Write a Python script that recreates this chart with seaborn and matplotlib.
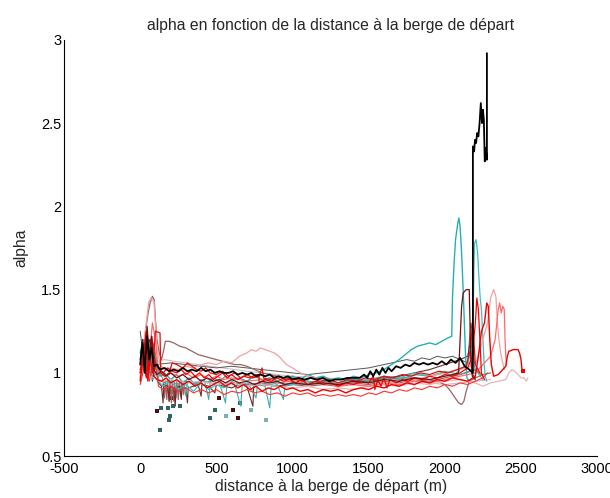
import matplotlib
matplotlib.use("Agg")
import matplotlib.pyplot as plt
import seaborn as sns
import pandas as pd

# ---------------- data (distance m, alpha) ----------------
black_main = [(0,1.05),(15,1.18),(30,1.0),(45,1.22),(60,1.08),(75,1.15),(90,1.04),(110,1.05),(130,1.02),(160,1.03),
    (190,1.01),(220,1.02),(250,1.01),(280,1.03),(310,1.01),(340,1.02),(370,1.01),(400,1.03),(430,1.01),(460,1.02),
    (490,1.0),(520,1.01),(550,1.0),(580,1.0),(610,1.01),(640,0.99),(670,1.0),(700,0.99),(730,1.0),(760,0.98),
    (790,0.99),(820,0.98),(850,0.99),(880,0.97),(910,0.98),(940,0.97),(970,0.98),(1000,0.96),(1040,0.97),(1080,0.96),
    (1120,0.97),(1160,0.96),(1200,0.97),(1240,0.95),(1280,0.96),(1320,0.96),(1360,0.97),(1400,0.97),(1440,0.97),
    (1470,0.99),(1490,0.97),(1510,1.01),(1530,0.98),(1550,1.02),(1570,0.99),(1590,1.03),(1610,1.0),(1630,1.03),
    (1650,1.01),(1680,1.04),(1710,1.03),(1740,1.05),(1770,1.04),(1800,1.06),(1830,1.05),(1860,1.06),(1890,1.05),
    (1920,1.06),(1950,1.05),(1980,1.07),(2010,1.05),(2040,1.08),(2070,1.06),(2100,1.09),(2130,1.04),(2160,1.02),
    (2184,1.0),(2184,2.36),(2192,2.33),(2198,2.4),(2205,2.38),(2212,2.44),(2220,2.42),(2228,2.5),(2236,2.62),
    (2244,2.5),(2250,2.58),(2256,2.52),(2262,2.27),(2268,2.35),(2276,2.28),(2276,2.92)]

teal_spike = [(0,1.12),(20,1.2),(40,1.05),(60,1.18),(80,1.0),(100,1.1),(130,0.98),(160,1.0),(200,0.96),(240,0.99),
    (280,0.94),(320,0.97),(360,0.93),(400,0.96),(440,0.94),(480,0.97),(520,0.95),(560,0.98),(600,0.96),(650,0.97),
    (700,0.95),(750,0.98),(800,0.96),(850,0.97),(900,0.95),(950,0.97),(1000,0.98),(1050,0.96),(1100,0.99),(1150,0.97),
    (1200,0.98),(1250,0.96),(1300,0.97),(1350,0.96),(1400,0.98),(1450,0.97),(1500,0.99),(1550,1.0),(1600,1.02),
    (1650,1.05),(1700,1.08),(1740,1.11),(1780,1.14),(1820,1.16),(1860,1.17),(1900,1.18),(1940,1.17),(1980,1.19),
    (2020,1.21),(2045,1.22),(2050,1.45),(2060,1.65),(2070,1.8),(2085,1.9),(2092,1.93),(2100,1.88),(2110,1.72),
    (2120,1.5),(2130,1.25),(2138,1.05),(2145,0.97),(2160,0.95)]

teal_second = [(0,1.0),(30,1.1),(60,0.98),(90,1.15),(120,0.95),(150,0.92),(200,0.95),(250,0.9),(300,0.93),(350,0.89),
    (400,0.94),(450,0.9),(500,0.93),(550,0.91),(600,0.95),(650,0.92),(700,0.94),(750,0.92),(800,0.95),(850,0.93),
    (900,0.94),(1000,0.93),(1100,0.95),(1200,0.93),(1300,0.94),(1400,0.95),(1500,0.96),(1600,0.98),(1700,0.97),
    (1800,1.0),(1900,0.98),(2000,1.0),(2050,0.98),(2100,1.02),(2150,1.05),(2185,1.2),(2190,1.6),(2195,1.78),
    (2205,1.8),(2215,1.72),(2225,1.55),(2232,1.45),(2240,1.38),(2250,1.2),(2258,1.05),(2265,0.98),(2275,0.95)]

teal_drops = [(0,0.98),(40,1.08),(80,0.96),(120,1.02),(160,0.94),(200,0.96),(240,0.93),(280,0.95),(300,0.86),(310,0.95),
    (360,0.93),(420,0.96),(450,0.84),(460,0.95),(520,0.94),(560,0.82),(570,0.94),(620,0.93),(660,0.8),(670,0.93),
    (720,0.92),(760,0.85),(770,0.93),(820,0.92),(850,0.79),(860,0.92),(900,0.93),(940,0.84),(950,0.92),(1000,0.93),
    (1100,0.94),(1200,0.95),(1300,0.94),(1400,0.96),(1500,0.95),(1600,0.97),(1700,0.96),(1800,0.99),(1900,0.98),
    (2000,1.01),(2100,0.99),(2200,1.02),(2250,0.96)]

brown_hump = [(0,1.02),(20,1.1),(35,1.25),(50,1.35),(65,1.42),(80,1.46),(92,1.44),(100,1.32),(110,1.2),(125,1.12),
    (140,1.08),(155,1.14),(165,1.19),(190,1.19),(220,1.18),(260,1.16),(300,1.15),(340,1.13),(380,1.11),(420,1.1),
    (460,1.09),(500,1.08),(540,1.07),(580,1.06),(620,1.05),(660,1.05),(700,1.04),(750,1.02),(800,1.0),(850,0.99),
    (900,0.98),(950,0.97),(1000,0.96),(1100,0.95),(1200,0.94),(1300,0.93),(1400,0.94),(1500,0.95),(1600,0.96),
    (1700,0.97),(1800,0.97),(1900,0.96),(1950,0.95),(2000,0.93),(2030,0.9),(2060,0.86),(2090,0.82),(2110,0.81),
    (2125,0.83),(2140,0.89),(2160,0.95),(2200,0.97),(2250,0.99),(2300,1.0)]

pink_hump = [(0,1.0),(20,1.15),(40,1.3),(55,1.42),(70,1.45),(90,1.43),(100,1.3),(110,1.15),(130,1.05),(160,1.02),
    (200,1.03),(250,1.02),(300,1.04),(350,1.03),(400,1.05),(450,1.06),(500,1.05),(550,1.07),(600,1.06),(650,1.1),
    (700,1.12),(730,1.14),(760,1.13),(790,1.15),(820,1.14),(850,1.13),(880,1.12),(910,1.1),(930,1.08),(960,1.05),
    (1000,1.03),(1050,1.0),(1100,0.98),(1200,0.96),(1300,0.94),(1400,0.93),(1500,0.92),(1600,0.93),(1700,0.95),
    (1800,0.96),(1900,0.98),(2000,1.0),(2100,1.02),(2200,1.05),(2250,1.2),(2280,1.3),(2300,1.45),(2320,1.5),
    (2335,1.46),(2345,1.3),(2355,1.2),(2370,1.1),(2390,1.02)]

pink_long = [(0,0.96),(30,1.05),(60,0.98),(100,0.97),(150,0.95),(200,0.96),(300,0.94),(400,0.95),(500,0.93),(600,0.94),
    (700,0.92),(800,0.93),(900,0.92),(1000,0.91),(1100,0.92),(1200,0.9),(1300,0.91),(1400,0.9),(1500,0.92),
    (1600,0.93),(1700,0.92),(1800,0.94),(1900,0.93),(2000,0.95),(2100,0.96),(2200,0.94),(2250,0.92),(2300,0.94),
    (2350,0.95),(2400,0.96),(2420,1.0),(2440,1.02),(2460,1.01),(2480,0.99),(2500,0.97),(2520,0.97),(2535,0.95),
    (2545,0.97)]

red_long = [(0,0.95),(20,1.1),(40,1.25),(55,1.0),(70,1.2),(90,0.98),(110,0.96),(140,0.95),(170,0.97),(200,0.94),
    (240,0.96),(280,0.93),(320,0.95),(360,0.92),(400,0.94),(440,0.91),(480,0.93),(520,0.95),(560,0.92),(600,0.94),
    (640,0.91),(680,0.93),(720,0.9),(760,0.92),(800,0.89),(840,0.91),(880,0.9),(920,0.92),(960,0.9),(1000,0.91),
    (1050,0.89),(1100,0.9),(1150,0.88),(1200,0.9),(1250,0.89),(1300,0.9),(1350,0.88),(1400,0.9),(1450,0.91),
    (1500,0.9),(1550,0.92),(1600,0.91),(1650,0.93),(1700,0.92),(1750,0.94),(1800,0.93),(1850,0.95),(1900,0.94),
    (1950,0.96),(2000,0.95),(2050,0.97),(2100,0.96),(2150,0.95),(2200,0.98),(2220,1.1),(2240,1.25),(2260,1.3),
    (2275,1.42),(2285,1.4),(2295,1.2),(2305,1.05),(2320,0.98),(2350,0.99),(2380,1.02),(2400,1.04),(2410,1.1),
    (2420,1.13),(2450,1.14),(2480,1.14),(2490,1.12),(2500,1.08),(2505,1.03),(2510,1.01)]

red_mid = [(0,1.0),(25,1.15),(50,0.95),(75,1.22),(100,1.05),(125,1.02),(150,1.0),(180,1.03),(210,1.01),(240,1.0),
    (270,1.02),(300,0.99),(330,1.01),(360,0.98),(390,1.0),(420,0.97),(450,0.99),(480,0.96),(510,0.98),(540,1.0),
    (570,0.97),(600,0.99),(640,0.96),(680,0.98),(720,0.97),(760,0.99),(780,0.99),(780,0.94),(820,0.96),(860,0.95),
    (900,0.97),(940,0.95),(980,0.96),(1020,0.94),(1060,0.96),(1100,0.93),(1150,0.95),(1200,0.93),(1250,0.94),
    (1300,0.92),(1350,0.94),(1400,0.93),(1450,0.95),(1500,0.94),(1530,0.98),(1540,0.9),(1560,0.96),(1580,0.92),
    (1600,0.97),(1620,0.91),(1640,0.96),(1680,0.94),(1720,0.96),(1760,0.95),(1800,0.97),(1850,0.96),(1900,0.98),
    (1950,0.97),(2000,0.99),(2050,0.98),(2100,1.0),(2150,1.03),(2180,1.1),(2200,1.3),(2210,1.45),(2220,1.38),
    (2230,1.2),(2240,1.0),(2260,0.96)]

red_light = [(0,1.05),(30,1.2),(60,1.1),(80,1.3),(100,1.2),(120,1.0),(160,0.98),(200,1.0),(250,0.98),(300,1.0),
    (350,0.97),(400,0.99),(450,0.96),(500,0.98),(550,0.96),(600,0.97),(700,0.95),(800,0.96),(900,0.94),(1000,0.95),
    (1100,0.93),(1200,0.94),(1300,0.92),(1400,0.93),(1500,0.92),(1600,0.94),(1700,0.93),(1800,0.95),(1900,0.94),
    (2000,0.96),(2100,0.98),(2200,1.0),(2250,1.05),(2300,1.1),(2330,1.2),(2350,1.38),(2360,1.42),(2370,1.36),
    (2380,1.4),(2390,1.38),(2395,1.2),(2400,1.1),(2405,1.05)]

red_low = [(0,0.93),(30,1.05),(60,0.95),(90,1.12),(120,0.92),(150,0.9),(200,0.92),(250,0.89),(300,0.91),(350,0.88),
    (400,0.9),(450,0.88),(500,0.9),(550,0.87),(600,0.89),(650,0.88),(700,0.9),(750,0.88),(800,0.89),(850,0.87),
    (900,0.88),(950,0.86),(1000,0.88),(1050,0.87),(1100,0.88),(1150,0.86),(1200,0.87),(1250,0.86),(1300,0.87),
    (1350,0.86),(1400,0.87),(1450,0.86),(1500,0.88),(1550,0.87),(1600,0.89),(1650,0.88),(1700,0.9),(1750,0.89),
    (1800,0.91),(1850,0.9),(1900,0.92),(1950,0.91),(2000,0.93),(2050,0.92),(2100,0.94),(2150,0.93),(2200,0.95),
    (2250,0.97),(2280,1.0)]

red_step = [(0,1.02),(20,1.08),(40,0.97),(60,1.12),(80,1.0),(100,1.25),(130,1.24),(135,1.0),(160,0.98),(190,1.0),
    (210,1.06),(240,1.05),(280,1.03),(310,1.06),(340,1.04),(370,1.02),(400,1.01),(430,1.03),(460,1.0),(500,0.99),
    (540,1.01),(580,0.98),(620,1.0),(660,0.97),(700,0.99),(740,0.97),(780,0.98),(800,1.03),(810,0.97),(850,0.96),
    (900,0.98),(950,0.96),(1000,0.97),(1060,0.95),(1120,0.97),(1180,0.95),(1240,0.96),(1300,0.94),(1360,0.96),
    (1420,0.95),(1480,0.97),(1540,0.96),(1600,0.98),(1660,0.97),(1720,0.99),(1780,0.98),(1840,1.0),(1900,0.99),
    (1960,1.01),(2020,1.0),(2080,1.02),(2140,1.04),(2170,1.15),(2180,1.3),(2190,1.2),(2200,1.05),(2230,1.0)]

darkred_spike = [(0,1.08),(15,1.2),(30,1.05),(45,1.28),(60,1.1),(75,1.22),(90,1.02),(110,0.99),(140,1.01),(170,0.98),
    (200,1.0),(240,0.97),(280,0.99),(320,0.96),(360,0.98),(400,0.95),(440,0.97),(480,0.95),(520,0.96),(560,0.94),
    (600,0.96),(650,0.94),(700,0.95),(750,0.93),(800,0.95),(850,0.94),(900,0.95),(950,0.93),(1000,0.94),(1100,0.93),
    (1200,0.94),(1300,0.93),(1400,0.95),(1500,0.94),(1600,0.96),(1700,0.95),(1800,0.97),(1900,0.96),(2000,0.98),
    (2050,0.99),(2090,1.0),(2100,1.2),(2110,1.4),(2120,1.48),(2140,1.5),(2160,1.5),(2165,1.3),(2170,1.1),
    (2180,0.98),(2200,0.96)]

darkbrown_drops = [(0,1.0),(20,1.15),(40,0.98),(60,1.2),(80,0.95),(100,1.05),(120,0.94),(140,0.92),(150,0.82),
    (155,0.93),(180,0.92),(190,0.83),(195,0.92),(220,0.91),(230,0.8),(235,0.91),(260,0.92),(270,0.84),(275,0.92),
    (300,0.91),(310,0.82),(315,0.91),(350,0.92),(380,0.93),(400,0.86),(405,0.93),(450,0.92),(490,0.88),(500,0.93),
    (550,0.92),(600,0.91),(650,0.93),(700,0.92),(740,0.8),(745,0.92),(800,0.93),(900,0.92),(1000,0.94),(1100,0.93),
    (1200,0.95),(1300,0.94),(1400,0.96),(1500,0.95),(1600,0.97),(1700,0.98),(1800,1.0),(1900,1.02),(2000,1.05),
    (2100,1.08),(2150,1.1),(2170,1.2),(2175,1.0),(2200,0.97)]

rosybrown_bars = [(0,0.97),(30,1.12),(60,1.0),(90,1.18),(120,0.96),(150,0.95),(160,0.85),(165,0.95),(175,0.84),
    (180,0.95),(190,0.83),(195,0.95),(205,0.82),(210,0.95),(220,0.83),(225,0.94),(235,0.85),(240,0.95),(250,0.84),
    (255,0.94),(265,0.86),(270,0.95),(285,0.87),(290,0.95),(350,0.94),(420,0.95),(500,0.93),(600,0.94),(700,0.93),
    (800,0.94),(900,0.92),(1000,0.93),(1100,0.92),(1200,0.93),(1300,0.92),(1400,0.94),(1500,0.93),(1600,0.95),
    (1700,0.94),(1800,0.96),(1900,0.95),(2000,0.97),(2100,0.99),(2200,1.02),(2250,0.98)]

grey_dark = [(0,1.25),(20,1.1),(40,1.2),(60,1.02),(100,1.05),(200,1.06),(300,1.05),(400,1.04),(500,1.03),(600,1.04),
    (700,1.03),(800,1.02),(900,1.01),(1000,1.0),(1100,0.99),(1200,1.0),(1300,1.01),(1400,1.02),(1500,1.03),
    (1600,1.05),(1700,1.07),(1750,1.08),(1800,1.07),(1850,1.09),(1900,1.08),(1950,1.1),(2000,1.09),(2050,1.1),
    (2100,1.08),(2150,1.06),(2170,1.3),(2180,1.25),(2190,1.1),(2200,1.0)]

grey_light = [(0,1.0),(40,1.1),(80,1.05),(120,1.07),(160,1.08),(220,1.07),(300,1.06),(380,1.05),(460,1.04),(540,1.03),
    (620,1.02),(700,1.01),(800,1.0),(900,0.99),(1000,0.98),(1200,0.97),(1400,0.96),(1600,0.97),(1800,0.96),
    (1900,0.94),(2000,0.93),(2100,0.94),(2200,0.95),(2300,0.96)]

markers_teal = [(133,0.66),(139,0.79),(181,0.79),(187,0.72),(198,0.74),(214,0.8),(259,0.8),(456,0.73),(489,0.78),(653,0.82)]
markers_darkred = [(110,0.77),(211,0.85),(609,0.78),(642,0.73),(520,0.85)]
markers_lightteal = [(730,0.78),(828,0.72),(560,0.74)]

series_styles = [
    ("grey_light", grey_light, "#cbbcbc", 0.8),
    ("grey_dark", grey_dark, "#555555", 0.7),
    ("brown_hump", brown_hump, "#9a6464", 0.9),
    ("rosybrown_bars", rosybrown_bars, "#a86060", 0.9),
    ("darkbrown_drops", darkbrown_drops, "#6a2a2a", 0.8),
    ("teal_drops", teal_drops, "#40aaaa", 0.8),
    ("teal_second", teal_second, "#3cc0c0", 0.9),
    ("teal_spike", teal_spike, "#25b0b0", 1.0),
    ("pink_long", pink_long, "#e8b4b4", 0.9),
    ("pink_hump", pink_hump, "#f5a0a0", 0.9),
    ("red_light", red_light, "#ff6a6a", 0.9),
    ("red_low", red_low, "#ff3030", 0.8),
    ("red_step", red_step, "#e01010", 0.9),
    ("red_mid", red_mid, "#ff0000", 0.9),
    ("red_long", red_long, "#ee0000", 1.0),
    ("darkred_spike", darkred_spike, "#701010", 0.9),
    ("black_main", black_main, "#000000", 1.3),
]

# ---------------- plot ----------------
sns.set_style("white")
plt.rcParams["font.family"] = ["Liberation Sans", "DejaVu Sans"]
plt.rcParams["axes.unicode_minus"] = False

fig = plt.figure(figsize=(6.1, 4.98), dpi=100)
ax = fig.add_axes([0.105, 0.084, 0.874, 0.836])

for name, pts, color, lw in series_styles:
    df = pd.DataFrame(pts, columns=["x", "y"])
    sns.lineplot(data=df, x="x", y="y", color=color, linewidth=lw,
                 estimator=None, sort=False, ax=ax, legend=False)

end_pt = pd.DataFrame([red_long[-1]], columns=["x", "y"])
sns.scatterplot(data=end_pt, x="x", y="y", color="#ee0000", marker="s", s=12, linewidth=0, ax=ax)

for pts, color in [(markers_teal, "#2f6464"), (markers_darkred, "#4a0c0c"), (markers_lightteal, "#7fb0b0")]:
    dfm = pd.DataFrame(pts, columns=["x", "y"])
    sns.scatterplot(data=dfm, x="x", y="y", color=color, marker="s", s=11, linewidth=0, ax=ax, legend=False)

ax.set_xlim(-500, 3000)
ax.set_ylim(0.5, 3)
ax.set_xticks([-500, 0, 500, 1000, 1500, 2000, 2500, 3000])
ax.set_yticks([0.5, 1, 1.5, 2, 2.5, 3])
ax.set_yticklabels(["0.5", "1", "1.5", "2", "2.5", "3"])
ax.tick_params(direction="in", length=4, width=0.8, labelsize=10.5, colors="black", pad=2)
ax.tick_params(axis="x", pad=4)
for s in ["top", "right"]:
    ax.spines[s].set_visible(False)
for s in ["left", "bottom"]:
    ax.spines[s].set_color("black")
    ax.spines[s].set_linewidth(0.8)

ax.set_title("alpha en fonction de la distance à la berge de départ", fontsize=11.3, pad=7)
ax.set_xlabel("distance à la berge de départ (m)", fontsize=11.3, labelpad=2)
ax.set_ylabel("alpha", fontsize=11.3, labelpad=9)

fig.savefig("out.png", dpi=100)
